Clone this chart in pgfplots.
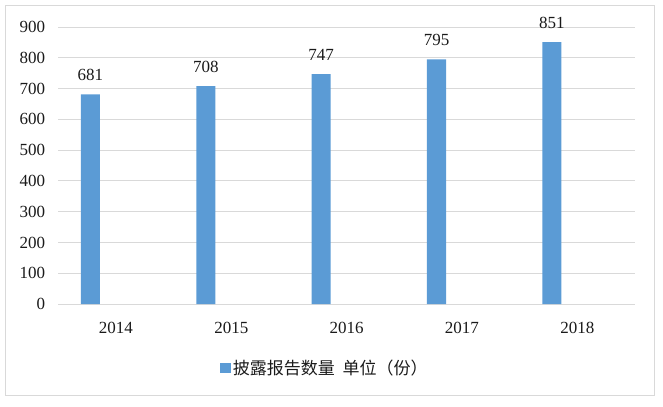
\documentclass[border=0pt]{standalone}
\usepackage{fontspec}
\setmainfont{Liberation Serif}
\newfontfamily\cjk{Noto Sans CJK SC}
\usepackage{pgfplots}
\pgfplotsset{compat=1.18}

\definecolor{barblue}{HTML}{5B9BD5}
\definecolor{gridgray}{HTML}{D9D9D9}
\definecolor{txt}{HTML}{1A1A1A}

\begin{document}
\begin{tikzpicture}[font=\fontsize{17bp}{20bp}\selectfont]
\begin{axis}[
    name=ax,
    scale only axis,
    width=576.7bp, height=277bp,
    xmin=-0.5, xmax=4.5,
    ymin=0, ymax=900,
    ytick={0,100,...,900},
    xtick=data,
    xticklabels={2014,2015,2016,2017,2018},
    axis line style={draw=none},
    major tick length=0pt,
    ymajorgrids,
    grid style={gridgray, line width=0.8pt},
    /pgf/number format/assume math mode=true,
    tick label style={text=txt},
    yticklabel style={anchor=east, inner sep=0pt, xshift=-13bp},
    xticklabel style={anchor=base, inner sep=0pt, yshift=-29bp},
    ybar,
    bar width=0.165,
    bar shift=-0.221,
    nodes near coords,
    every node near coord/.append style={anchor=base, inner sep=0pt, yshift=14bp, text=txt},
    legend style={at={(0.462,-0.231)}, anchor=center, draw=none, fill=none,
        inner sep=0pt, font=\fontsize{17bp}{20bp}\selectfont\cjk, text=txt},
    legend image code/.code={\fill[barblue] (0bp,-5bp) rectangle (11bp,5bp);},
]
\addplot[fill=barblue, draw=none] coordinates {
    (0,681) (1,708) (2,747) (3,795) (4,851)
};
\addlegendentry{披露报告数量\hspace{4bp} 单位（份）}
\end{axis}
\draw[gridgray, line width=0.8pt] ([xshift=-53.3bp,yshift=-91bp]ax.south west) rectangle ([xshift=19.5bp,yshift=22bp]ax.north east);
\path ([xshift=-58.3bp,yshift=-102bp]ax.south west) rectangle ([xshift=28bp,yshift=27bp]ax.north east);
\end{tikzpicture}
\end{document}
